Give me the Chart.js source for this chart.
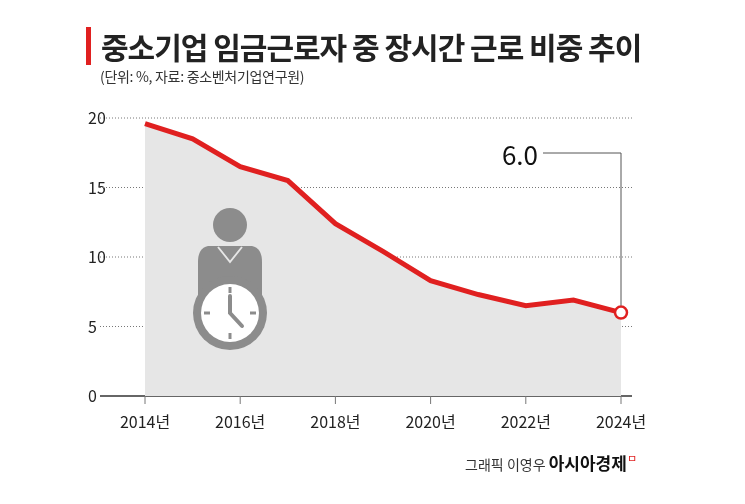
<!DOCTYPE html>
<html><head><meta charset="utf-8">
<script src="https://cdn.jsdelivr.net/npm/chart.js@4"></script>
<style>
body{margin:0;background:#fff;font-family:"Noto Sans CJK KR","Noto Sans",sans-serif;}
#wrap{position:relative;width:745px;height:504px;}
canvas{position:absolute;left:0;top:0;}
.t{position:absolute;left:86px;top:27px;font-size:30px;font-weight:bold;color:#222;border-left:5px solid #e02020;padding-left:10px;line-height:38px;letter-spacing:-1px}
.s{position:absolute;left:100px;top:66px;font-size:14px;color:#333;letter-spacing:-0.3px}
.f{position:absolute;right:108px;top:450px;font-size:14px;color:#333}
.f b{font-size:17px;color:#111}
.f i{color:#e02020;font-style:normal;font-size:11px;vertical-align:top}
</style></head><body>
<div id="wrap">
<canvas id="c" width="745" height="504"></canvas>
<div class="t">중소기업 임금근로자 중 장시간 근로 비중 추이</div>
<div class="s">(단위: %, 자료: 중소벤처기업연구원)</div>
<div class="f">그래픽 이영우 <b>아시아경제</b><i>ㅁ</i></div>
</div>
<script>
const years = ["2014","2015","2016","2017","2018","2019","2020","2021","2022","2023","2024"];
const shares = [19.6, 18.5, 16.5, 15.5, 12.4, 10.4, 8.3, 7.3, 6.5, 6.9, 6.0];
const yTicks = [0, 5, 10, 15, 20];
const callout = "6.0";

const deco = {
  id: "deco",
  beforeDatasetsDraw(chart) {
    const ctx = chart.ctx, y = chart.scales.y, x = chart.scales.x;
    ctx.save();
    yTicks.forEach(v => {
      const py = y.getPixelForValue(v);
      ctx.beginPath();
      ctx.setLineDash(v === 0 ? [] : [1, 2]);
      ctx.strokeStyle = v === 0 ? "#333" : "#777";
      ctx.lineWidth = v === 0 ? 1.5 : 1;
      ctx.moveTo(100, py); ctx.lineTo(632, py); ctx.stroke();
    });
    ctx.setLineDash([]);
    const base = y.getPixelForValue(0);
    years.forEach((yr, i) => {
      if (i % 2) return;
      const px = x.getPixelForValue(i);
      ctx.beginPath(); ctx.moveTo(px, base); ctx.lineTo(px, base + 8); ctx.stroke();
    });
    ctx.restore();
  },
  afterDatasetsDraw(chart) {
    const ctx = chart.ctx, y = chart.scales.y, x = chart.scales.x;
    ctx.save();
    // person + clock icon
    const g = "#8c8c8c";
    ctx.fillStyle = g;
    ctx.beginPath(); ctx.arc(230, 225, 17, 0, Math.PI * 2); ctx.fill();
    ctx.beginPath();
    ctx.moveTo(208, 246); ctx.lineTo(252, 246); ctx.quadraticCurveTo(262, 248, 262, 262);
    ctx.lineTo(262, 295); ctx.lineTo(198, 295); ctx.lineTo(198, 262);
    ctx.quadraticCurveTo(198, 248, 208, 246); ctx.fill();
    ctx.strokeStyle = "#e6e6e6"; ctx.lineWidth = 2;
    ctx.beginPath(); ctx.moveTo(218, 247); ctx.lineTo(230, 262); ctx.lineTo(242, 247); ctx.stroke();
    ctx.fillStyle = g;
    ctx.beginPath(); ctx.arc(230, 313, 37, 0, Math.PI * 2); ctx.fill();
    ctx.fillStyle = "#fff";
    ctx.beginPath(); ctx.arc(230, 313, 29, 0, Math.PI * 2); ctx.fill();
    ctx.strokeStyle = g; ctx.lineWidth = 3;
    for (let k = 0; k < 4; k++) {
      const a = k * Math.PI / 2;
      ctx.beginPath();
      ctx.moveTo(230 + Math.cos(a) * 20, 313 + Math.sin(a) * 20);
      ctx.lineTo(230 + Math.cos(a) * 26, 313 + Math.sin(a) * 26); ctx.stroke();
    }
    ctx.lineWidth = 4; ctx.lineCap = "round";
    ctx.beginPath(); ctx.moveTo(230, 296); ctx.lineTo(230, 313); ctx.lineTo(242, 326); ctx.stroke();
    // callout
    const last = shares.length - 1;
    const px = x.getPixelForValue(last), py = y.getPixelForValue(shares[last]);
    ctx.lineCap = "butt"; ctx.lineWidth = 1; ctx.strokeStyle = "#555";
    ctx.beginPath(); ctx.moveTo(543, 153); ctx.lineTo(px, 153); ctx.lineTo(px, py - 7); ctx.stroke();
    ctx.fillStyle = "#111"; ctx.font = "26px 'Noto Sans CJK KR'";
    ctx.textAlign = "right"; ctx.textBaseline = "middle";
    ctx.fillText(callout, 538, 155);
    ctx.restore();
  }
};

new Chart(document.getElementById("c"), {
  type: "line",
  data: {
    labels: years,
    datasets: [{
      data: shares,
      borderColor: "#e02020",
      borderWidth: 5,
      fill: "origin",
      backgroundColor: "#e6e6e6",
      tension: 0,
      pointRadius: shares.map((v, i) => i === shares.length - 1 ? 6 : 0),
      pointBackgroundColor: "#fff",
      pointBorderColor: "#e02020",
      pointBorderWidth: 2.5,
      clip: false
    }]
  },
  options: {
    responsive: false,
    animation: false,
    events: [],
    layout: { padding: { left: 88, right: 124, top: 118, bottom: 70 } },
    plugins: { legend: { display: false }, tooltip: { enabled: false } },
    scales: {
      x: {
        offset: false,
        grid: { display: false },
        border: { display: false },
        afterFit(s) { s.height = 38; },
        ticks: {
          autoSkip: false, maxRotation: 0, padding: 8,
          color: "#222", font: { size: 16, family: "Noto Sans CJK KR" },
          callback(v, i) { return i % 2 ? "" : years[i] + "년"; }
        }
      },
      y: {
        min: 0, max: 20,
        grid: { display: false },
        border: { display: false },
        afterFit(s) { s.width = 57; },
        afterBuildTicks(s) { s.ticks = yTicks.map(v => ({ value: v })); },
        ticks: {
          crossAlign: "far", padding: 0,
          color: "#222", font: { size: 16, family: "Noto Sans CJK KR" }
        }
      }
    }
  },
  plugins: [deco]
});
</script>
</body></html>
